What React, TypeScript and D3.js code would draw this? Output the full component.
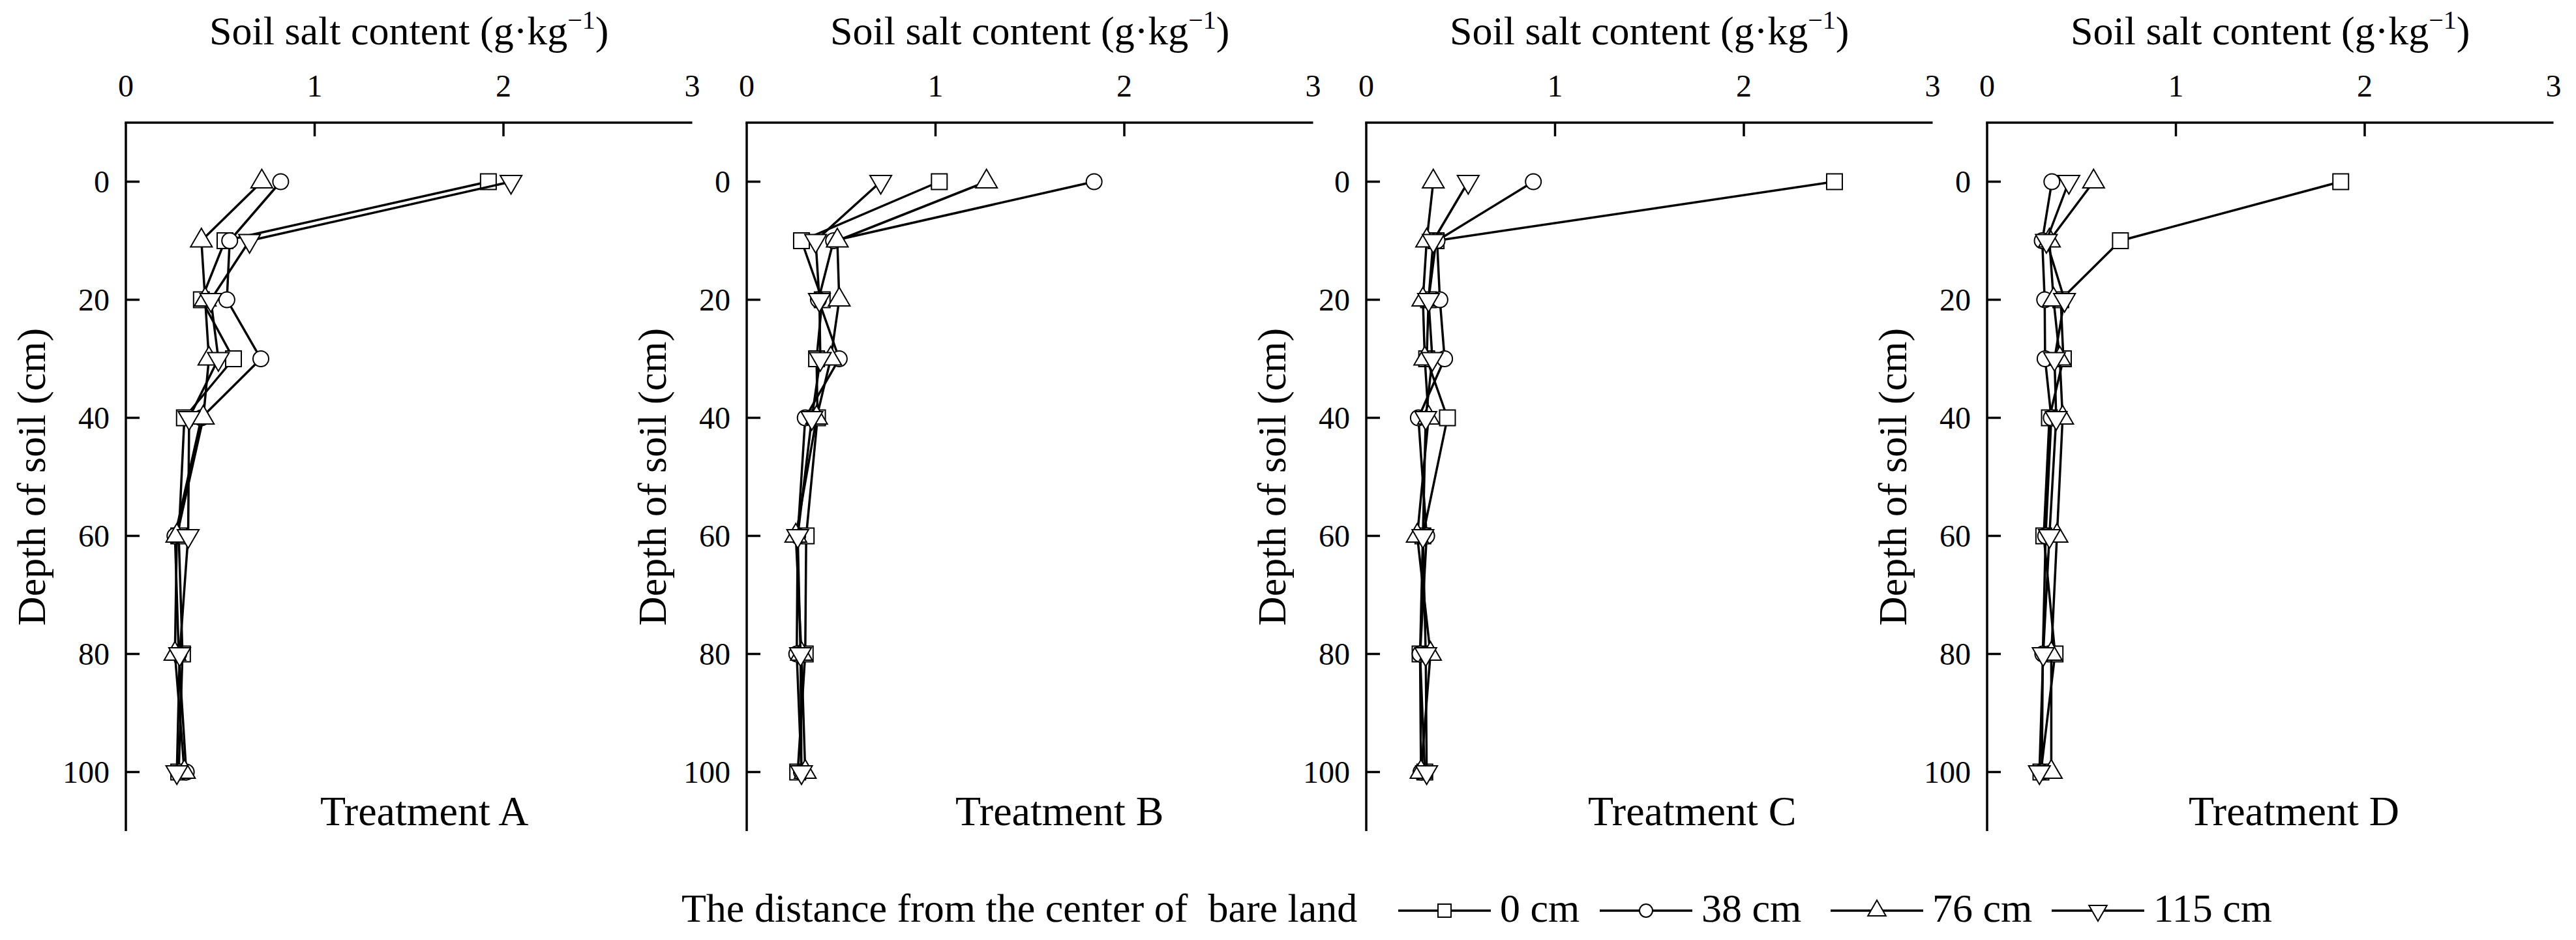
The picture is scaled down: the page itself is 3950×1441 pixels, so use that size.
import React from "react";
import * as d3 from "d3";

// ---------- data ----------
const depths = [0, 10, 20, 30, 40, 60, 80, 100];
const seriesLabels = ["0 cm", "38 cm", "76 cm", "115 cm"];
const markerShapes = ["square", "circle", "triangle", "triangleDown"];
const treatmentNames = ["Treatment A", "Treatment B", "Treatment C", "Treatment D"];
const xTicks = [0, 1, 2, 3];
const yTicks = [0, 20, 40, 60, 80, 100];

// each treatment: [0 cm, 38 cm, 76 cm, 115 cm] salt content by depth
const treatmentA = [
  [1.92, 0.525, 0.4, 0.57, 0.31, 0.28, 0.3, 0.28],
  [0.82, 0.55, 0.535, 0.715, 0.4, 0.26, 0.28, 0.32],
  [0.72, 0.4, 0.42, 0.44, 0.41, 0.27, 0.26, 0.31],
  [2.04, 0.655, 0.45, 0.49, 0.335, 0.33, 0.285, 0.27],
];
const treatmentB = [
  [1.02, 0.29, 0.4, 0.37, 0.375, 0.315, 0.31, 0.27],
  [1.84, 0.46, 0.38, 0.49, 0.31, 0.27, 0.265, 0.29],
  [1.27, 0.48, 0.49, 0.445, 0.37, 0.26, 0.29, 0.31],
  [0.71, 0.365, 0.385, 0.39, 0.345, 0.27, 0.285, 0.29],
];
const treatmentC = [
  [2.48, 0.37, 0.33, 0.32, 0.43, 0.3, 0.285, 0.31],
  [0.885, 0.375, 0.39, 0.415, 0.276, 0.32, 0.285, 0.29],
  [0.355, 0.32, 0.3, 0.31, 0.33, 0.27, 0.34, 0.29],
  [0.54, 0.355, 0.33, 0.35, 0.315, 0.3, 0.315, 0.32],
];
const treatmentD = [
  [1.873, 0.706, 0.39, 0.404, 0.33, 0.3, 0.36, 0.285],
  [0.343, 0.292, 0.305, 0.307, 0.34, 0.31, 0.295, 0.29],
  [0.564, 0.33, 0.352, 0.385, 0.4, 0.37, 0.34, 0.34],
  [0.433, 0.314, 0.41, 0.357, 0.366, 0.33, 0.297, 0.277],
];
const treatments = [treatmentA, treatmentB, treatmentC, treatmentD];

// ---------- layout ----------
const W = 3950;
const H = 1441;
const panelX0 = [193, 1145, 2095, 3047];
const panelW = 868.5;
const axisTop = 188;
const axisBottom = 1274;
const labelOffsets = [298, 320, 340, 309];
const FONT = "'Liberation Serif', 'Times New Roman', serif";

const yScale = d3.scaleLinear().domain([-10, 110]).range([axisTop, axisBottom]);

function markerPath(shape: string, size: number) {
  if (shape === "square") return d3.symbol(d3.symbolSquare, size * size)();
  if (shape === "circle") return d3.symbol(d3.symbolCircle, Math.PI * (size / 2) * (size / 2))();
  const side = size * 1.38;
  return d3.symbol(d3.symbolTriangle, (Math.sqrt(3) / 4) * side * side)();
}

function Marker({ shape, x, y, size }: { shape: string; x: number; y: number; size: number }) {
  const rot = shape === "triangleDown" ? 180 : 0;
  return (
    <path
      d={markerPath(shape, size) || ""}
      transform={`translate(${x},${y}) rotate(${rot})`}
      fill="#fff"
      stroke="#000"
      strokeWidth={2}
    />
  );
}

function Panel({ idx }: { idx: number }) {
  const x0 = panelX0[idx];
  const xScale = d3.scaleLinear().domain([0, 3]).range([x0, x0 + panelW]);
  const data = treatments[idx];
  const line = d3
    .line<number>()
    .x((v) => xScale(v))
    .y((_, i) => yScale(depths[i]));
  return (
    <g>
      {/* title */}
      <text
        x={(xScale(0) + xScale(3)) / 2}
        y={68}
        textAnchor="middle"
        fontFamily={FONT}
        fontSize={62}
      >
        Soil salt content (g·kg
        <tspan dy={-24} fontSize={40}>
          −1
        </tspan>
        <tspan dy={24}>)</tspan>
      </text>
      {/* top axis */}
      <line x1={xScale(0) - 1.75} x2={xScale(3)} y1={axisTop} y2={axisTop} stroke="#000" strokeWidth={3.5} />
      {xTicks.map((t) => (
        <g key={"xt" + t}>
          {t > 0 && t < 3 && (
            <line x1={xScale(t)} x2={xScale(t)} y1={axisTop} y2={axisTop + 21} stroke="#000" strokeWidth={3.5} />
          )}
          <text x={xScale(t)} y={148} textAnchor="middle" fontFamily={FONT} fontSize={48}>
            {t}
          </text>
        </g>
      ))}
      {/* left axis */}
      <line x1={xScale(0)} x2={xScale(0)} y1={axisTop} y2={axisBottom} stroke="#000" strokeWidth={3.5} />
      {yTicks.map((t) => (
        <g key={"yt" + t}>
          <line x1={xScale(0)} x2={xScale(0) + 21} y1={yScale(t)} y2={yScale(t)} stroke="#000" strokeWidth={3.5} />
          <text x={xScale(0) - 25} y={yScale(t) + 16} textAnchor="end" fontFamily={FONT} fontSize={48}>
            {t}
          </text>
        </g>
      ))}
      <text
        transform={`translate(${x0 - 145},${(axisTop + axisBottom) / 2}) rotate(-90)`}
        textAnchor="middle"
        dominantBaseline="central"
        fontFamily={FONT}
        fontSize={62}
      >
        Depth of soil (cm)
      </text>
      {/* series */}
      {data.map((vals, si) => (
        <g key={"s" + si}>
          <path d={line(vals) || ""} fill="none" stroke="#000" strokeWidth={3.5} strokeLinejoin="round" />
          {vals.map((v, i) => (
            <Marker key={i} shape={markerShapes[si]} x={xScale(v)} y={yScale(depths[i])} size={24} />
          ))}
        </g>
      ))}
      <text x={x0 + labelOffsets[idx]} y={1265} fontFamily={FONT} fontSize={64}>
        {treatmentNames[idx]}
      </text>
    </g>
  );
}

const legendLineX = [2144, 2453, 2807, 3146];
const legendLineLen = 142;

export default function App() {
  return (
    <div style={{ position: "absolute", left: 0, top: 0, background: "#fff" }}>
      <svg width={W} height={H} viewBox={`0 0 ${W} ${H}`} style={{ display: "block", background: "#fff" }}>
        <rect x={0} y={0} width={W} height={H} fill="#fff" />
        {treatments.map((_, i) => (
          <Panel key={i} idx={i} />
        ))}
        {/* legend */}
        <text x={1045} y={1413} fontFamily={FONT} fontSize={62}>
          The distance from the center of{"\u00a0\u00a0"}bare land
        </text>
        {seriesLabels.map((lab, i) => {
          const lx = legendLineX[i];
          return (
            <g key={"lg" + i}>
              <line x1={lx} x2={lx + legendLineLen} y1={1396} y2={1396} stroke="#000" strokeWidth={3.5} />
              <Marker shape={markerShapes[i]} x={lx + legendLineLen / 2} y={1396} size={20} />
              <text x={lx + legendLineLen + 14} y={1413} fontFamily={FONT} fontSize={62}>
                {lab}
              </text>
            </g>
          );
        })}
      </svg>
    </div>
  );
}
